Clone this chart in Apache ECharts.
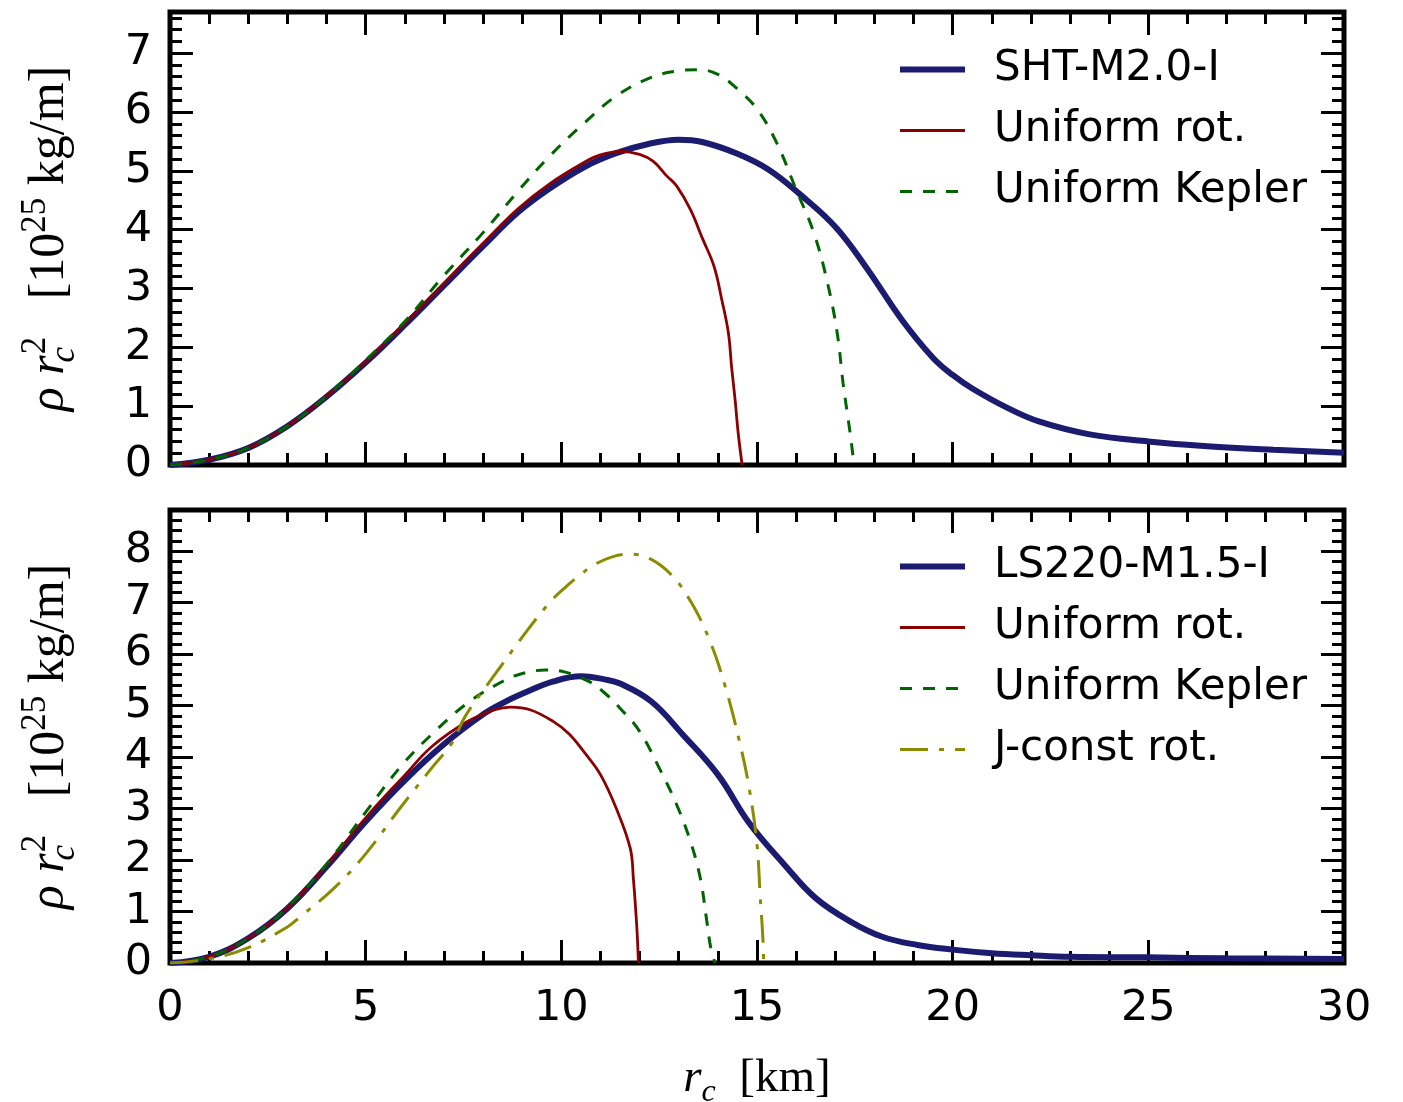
<!DOCTYPE html>
<html><head><meta charset="utf-8">
<script src="https://cdn.jsdelivr.net/npm/echarts@6/dist/echarts.min.js"></script>
<style>html,body{margin:0;padding:0;background:#fff}#c{width:1403px;height:1102px}</style>
</head><body><div id="c"></div>
<script>
// ---------- DATA ----------
// Top panel: SHT-M2.0-I
const topBlueR = [0, 1, 2, 3, 4, 5, 6, 7, 8, 8.9, 9.7, 10.6, 11.4, 12.3, 13, 13.6, 14.5, 15.3, 16.1, 17, 17.8, 18.7, 19.5, 20, 20.5, 21.4, 22.2, 23.5, 25, 26.5, 28.2, 30];
const topBlueV = [0, 0.09, 0.29, 0.66, 1.16, 1.74, 2.38, 3.05, 3.72, 4.3, 4.7, 5.07, 5.3, 5.47, 5.53, 5.49, 5.29, 5.02, 4.6, 4.05, 3.35, 2.47, 1.82, 1.53, 1.3, 0.97, 0.74, 0.52, 0.4, 0.32, 0.26, 0.21];
const topRedR = [0, 1, 2, 3, 4, 5, 6, 7, 8, 8.9, 9.7, 10.6, 11, 11.5, 12, 12.35, 12.7, 12.95, 13.3, 13.6, 13.9, 14.1, 14.27, 14.35, 14.44, 14.52, 14.62];
const topRedV = [0, 0.09, 0.29, 0.66, 1.17, 1.76, 2.41, 3.09, 3.77, 4.36, 4.78, 5.15, 5.27, 5.33, 5.28, 5.16, 4.91, 4.74, 4.34, 3.86, 3.38, 2.81, 2.24, 1.67, 1.11, 0.54, 0];
const topGreenR = [0, 1, 2, 3, 4, 5, 6, 7, 8, 8.9, 9.7, 10.6, 11.4, 12.3, 13, 13.5, 14, 14.5, 15, 15.5, 16, 16.45, 16.8, 17.05, 17.2, 17.38, 17.48];
const topGreenV = [0, 0.09, 0.29, 0.66, 1.17, 1.78, 2.44, 3.22, 3.95, 4.66, 5.25, 5.82, 6.27, 6.59, 6.7, 6.72, 6.64, 6.39, 6.05, 5.48, 4.68, 3.95, 3.1, 2.24, 1.39, 0.54, 0];

// Bottom panel: LS220-M1.5-I
const botBlueR = [0, 1, 2, 3, 4, 5, 6, 7, 8, 8.5, 9, 9.8, 10.5, 11.1, 11.5, 12.3, 13.1, 14, 14.8, 15.7, 16.5, 17.4, 18.2, 19.1, 20, 21, 22, 23, 25, 27, 30];
const botBlueV = [0, 0.12, 0.48, 1.06, 1.87, 2.75, 3.55, 4.25, 4.83, 5.05, 5.23, 5.47, 5.57, 5.51, 5.43, 5.08, 4.44, 3.66, 2.72, 1.91, 1.26, 0.8, 0.51, 0.35, 0.26, 0.19, 0.15, 0.12, 0.11, 0.09, 0.08];
const botRedR = [0, 1, 2, 3, 4, 5, 6, 6.7, 7.6, 8.3, 8.7, 9.2, 9.8, 10.2, 10.6, 11, 11.4, 11.76, 11.84, 11.93, 11.97];
const botRedV = [0, 0.12, 0.48, 1.07, 1.9, 2.82, 3.65, 4.21, 4.69, 4.92, 4.97, 4.92, 4.69, 4.45, 4.08, 3.66, 3.01, 2.23, 1.65, 0.68, 0];
const botGreenR = [0, 1, 2, 3, 4, 5, 5.9, 6.7, 7.6, 8.4, 8.9, 9.6, 10.1, 10.7, 11.1, 11.5, 12, 12.5, 12.95, 13.3, 13.55, 13.72, 13.82, 13.93];
const botGreenV = [0, 0.12, 0.48, 1.08, 1.92, 2.93, 3.82, 4.45, 5.05, 5.43, 5.6, 5.69, 5.65, 5.47, 5.25, 4.95, 4.5, 3.79, 3.07, 2.36, 1.65, 0.8, 0.29, 0];
const botOliveR = [0, 1, 2, 3, 3.3, 4.2, 5, 5.9, 6.7, 7.2, 7.55, 8.2, 8.45, 8.95, 9.7, 10.15, 10.5, 10.8, 11.3, 11.75, 12.25, 12.8, 13.3, 13.8, 14.2, 14.55, 14.8, 15.0, 15.08, 15.15, 15.17];
const botOliveV = [0, 0.08, 0.3, 0.7, 0.88, 1.46, 2.12, 3.03, 3.8, 4.27, 4.8, 5.5, 5.76, 6.28, 7.0, 7.33, 7.55, 7.72, 7.89, 7.94, 7.86, 7.55, 7.03, 6.25, 5.34, 4.31, 3.4, 2.3, 1.32, 0.48, 0];

// Axis ranges / ticks
const xRange = [0, 30];
const xMajor = 5, xMinor = 1;
const topYRange = [0, 7.7];
const botYRange = [0, 8.8];
const yMajor = 1, yMinor = 0.2;

// Legend names
const topNames = ['SHT-M2.0-I', 'Uniform rot.', 'Uniform Kepler'];
const botNames = ['LS220-M1.5-I', 'Uniform rot.', 'Uniform Kepler', 'J-const rot.'];

// ---------- STYLES ----------
const BLUE = '#1b1b6f', RED = '#8b0000', GREEN = '#006400', OLIVE = '#8b8b00';
const sBlue = {color: BLUE, width: 6, type: 'solid'};
const sRed = {color: RED, width: 2.8, type: 'solid'};
const sGreen = {color: GREEN, width: 3, type: [12, 11]};
const sOlive = {color: OLIVE, width: 3, type: [28, 11, 5, 11]};

const zip = (xs, ys) => xs.map((x, i) => [x, ys[i]]);

const SANS = 'DejaVu Sans';
const SERIF = 'Liberation Serif';

const grids = [
  {left: 170, right: 59, top: 12, height: 453},
  {left: 170, right: 59, top: 510, height: 453}
];

function tick(len) {
  return {show: true, inside: true, length: len, lineStyle: {color: '#000', width: 3}};
}

const xAxes = [], yAxes = [];
[0, 1].forEach(gi => {
  const yr = gi === 0 ? topYRange : botYRange;
  [['bottom', xMajor, 23], ['bottom', xMinor, 12], ['top', xMajor, 23], ['top', xMinor, 12]].forEach((d, k) => {
    const ax = {
      type: 'value', gridIndex: gi, position: d[0], min: xRange[0], max: xRange[1], interval: d[1],
      axisLine: {show: false, onZero: false}, splitLine: {show: false}, axisTick: tick(d[2]),
      axisLabel: {show: false}
    };
    if (gi === 1 && k === 0) {
      ax.axisLabel = {show: true, fontFamily: SANS, fontSize: 43, color: '#000', margin: 24};
      ax.name = '{i|r}{sub|c}  [km]';
      ax.nameLocation = 'middle';
      ax.nameGap = 86;
      ax.nameTextStyle = {
        fontFamily: SERIF, fontSize: 47, color: '#000', lineHeight: 60,
        rich: {
          i: {fontFamily: SERIF, fontStyle: 'italic', fontSize: 47, color: '#000', lineHeight: 60},
          sub: {fontFamily: SERIF, fontStyle: 'italic', fontSize: 32, color: '#000', lineHeight: 32, verticalAlign: 'bottom'}
        }
      };
    }
    xAxes.push(ax);
  });
  [['left', yMajor, 23], ['left', yMinor, 12], ['right', yMajor, 23], ['right', yMinor, 12]].forEach((d, k) => {
    const ax = {
      type: 'value', gridIndex: gi, position: d[0], min: yr[0], max: yr[1], interval: d[1],
      axisLine: {show: false, onZero: false}, splitLine: {show: false}, axisTick: tick(d[2]),
      axisLabel: {show: false}
    };
    if (k === 0) {
      ax.axisLabel = {show: true, fontFamily: SANS, fontSize: 43, color: '#000', margin: 18, showMaxLabel: false};
      ax.name = '{i|ρ} {i|r}{sub|c}{sup|2}   [10{sup|25} kg/m]';
      ax.nameLocation = 'middle';
      ax.nameRotate = 90;
      ax.nameGap = 88;
      ax.nameTextStyle = {
        fontFamily: SERIF, fontSize: 50, color: '#000', lineHeight: 64,
        rich: {
          i: {fontFamily: SERIF, fontStyle: 'italic', fontSize: 50, color: '#000', lineHeight: 64},
          sub: {fontFamily: SERIF, fontStyle: 'italic', fontSize: 35, color: '#000', lineHeight: 35, verticalAlign: 'bottom', width: 1},
          sup: {fontFamily: SERIF, fontSize: 35, color: '#000', lineHeight: 35, verticalAlign: 'top'}
        }
      };
    }
    yAxes.push(ax);
  });
});

function mk(name, xs, ys, gi, style) {
  return {
    type: 'line', name: name, xAxisIndex: gi * 4, yAxisIndex: gi * 4,
    data: zip(xs, ys), symbol: 'none', showSymbol: false,
    smooth: 0.4, clip: true, silent: true,
    lineStyle: {color: style.color, width: style.width, type: style.type},
    itemStyle: {color: style.color}
  };
}

const series = [
  mk(topNames[0], topBlueR, topBlueV, 0, sBlue),
  mk(topNames[1], topRedR, topRedV, 0, sRed),
  mk(topNames[2], topGreenR, topGreenV, 0, sGreen),
  mk(botNames[0], botBlueR, botBlueV, 1, sBlue),
  mk(botNames[1], botRedR, botRedV, 1, sRed),
  mk(botNames[2], botGreenR, botGreenV, 1, sGreen),
  mk(botNames[3], botOliveR, botOliveV, 1, sOlive)
];

function legend(names, styles, top) {
  return {
    orient: 'vertical', left: 897, top: top, padding: 0,
    itemWidth: 65, itemHeight: 14, itemGap: 19,
    data: names.map((n, i) => ({
      name: n,
      lineStyle: {color: styles[i].color, width: styles[i].width, type: styles[i].type},
      itemStyle: {opacity: 0, color: 'rgba(0,0,0,0)', borderWidth: 0}
    })),
    itemStyle: {opacity: 0, color: 'rgba(0,0,0,0)', borderWidth: 0},
    formatter: n => '{t|' + n + '}',
    textStyle: {
      rich: {t: {fontFamily: SANS, fontSize: 42, color: '#000', lineHeight: 46, padding: [0, 0, 0, 24]}}
    }
  };
}

const option = {
  backgroundColor: '#fff',
  animation: false,
  grid: grids.map(g => Object.assign({show: true, borderColor: '#000', borderWidth: 5, backgroundColor: 'transparent', containLabel: false, outerBoundsMode: 'none'}, g)),
  xAxis: xAxes,
  yAxis: yAxes,
  legend: [
    legend(topNames, [sBlue, sRed, sGreen], 48.5),
    legend(botNames, [sBlue, sRed, sGreen, sOlive], 545.5)
  ],
  series: series
};

const chart = echarts.init(document.getElementById('c'), null, {renderer: 'canvas'});
chart.setOption(option);
</script>
</body></html>
